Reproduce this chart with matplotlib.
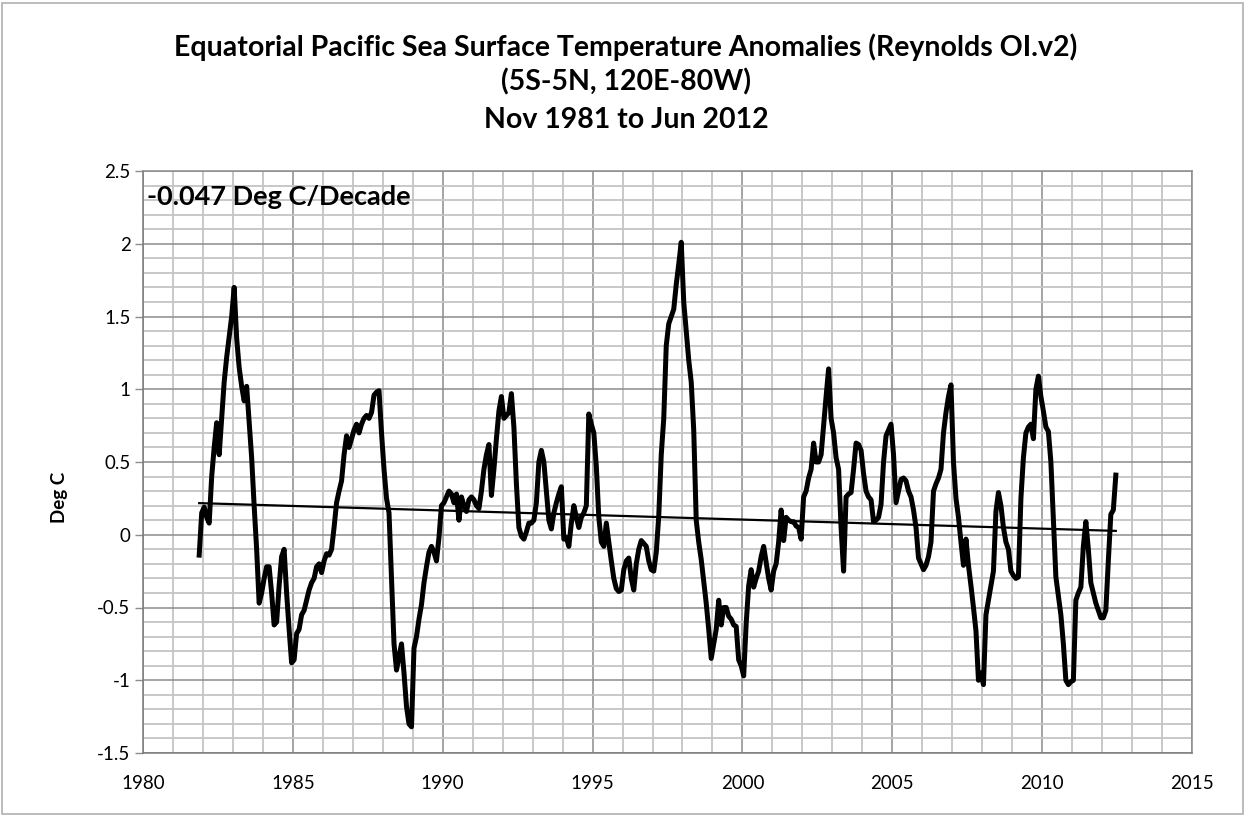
import numpy as np
import matplotlib
matplotlib.use("Agg")
import matplotlib.pyplot as plt
from matplotlib.ticker import MultipleLocator, FuncFormatter
from matplotlib.patches import Rectangle

# Monthly anomalies, Nov 1981 .. Jun 2012 (Deg C)
start_year = 1981
start_month = 11
anom_1981 = [-0.14, 0.15]
anom_1982 = [0.19, 0.12, 0.08, 0.40, 0.60, 0.77, 0.55, 0.80, 1.05, 1.22, 1.36, 1.50]
anom_1983 = [1.70, 1.35, 1.15, 1.02, 0.92, 1.02, 0.78, 0.53, 0.20, -0.10, -0.47, -0.40]
anom_1984 = [-0.30, -0.22, -0.22, -0.40, -0.62, -0.60, -0.35, -0.15, -0.10, -0.40, -0.65, -0.88]
anom_1985 = [-0.86, -0.68, -0.65, -0.55, -0.52, -0.45, -0.38, -0.33, -0.30, -0.22, -0.20, -0.26]
anom_1986 = [-0.18, -0.13, -0.14, -0.10, 0.05, 0.22, 0.30, 0.37, 0.55, 0.68, 0.60, 0.66]
anom_1987 = [0.72, 0.76, 0.70, 0.76, 0.80, 0.82, 0.80, 0.84, 0.96, 0.98, 0.99, 0.70]
anom_1988 = [0.45, 0.25, 0.15, -0.30, -0.75, -0.93, -0.84, -0.75, -0.95, -1.18, -1.30, -1.32]
anom_1989 = [-0.78, -0.70, -0.58, -0.48, -0.33, -0.22, -0.12, -0.08, -0.12, -0.18, -0.02, 0.20]
anom_1990 = [0.22, 0.26, 0.30, 0.28, 0.22, 0.28, 0.10, 0.26, 0.20, 0.16, 0.24, 0.26]
anom_1991 = [0.24, 0.20, 0.18, 0.30, 0.45, 0.55, 0.62, 0.27, 0.45, 0.66, 0.85, 0.95]
anom_1992 = [0.80, 0.82, 0.84, 0.97, 0.74, 0.35, 0.05, -0.01, -0.03, 0.02, 0.08, 0.08]
anom_1993 = [0.10, 0.22, 0.50, 0.58, 0.50, 0.30, 0.10, 0.04, 0.15, 0.22, 0.28, 0.33]
anom_1994 = [-0.03, -0.02, -0.08, 0.08, 0.20, 0.12, 0.05, 0.12, 0.15, 0.20, 0.83, 0.76]
anom_1995 = [0.70, 0.47, 0.12, -0.05, -0.08, 0.08, -0.05, -0.18, -0.30, -0.37, -0.39, -0.38]
anom_1996 = [-0.24, -0.18, -0.16, -0.30, -0.38, -0.20, -0.10, -0.04, -0.06, -0.08, -0.18, -0.24]
anom_1997 = [-0.25, -0.12, 0.13, 0.55, 0.80, 1.30, 1.45, 1.50, 1.55, 1.72, 1.86, 2.01]
anom_1998 = [1.60, 1.40, 1.20, 1.05, 0.72, 0.10, -0.05, -0.17, -0.32, -0.47, -0.65, -0.85]
anom_1999 = [-0.75, -0.65, -0.45, -0.62, -0.50, -0.50, -0.56, -0.58, -0.62, -0.63, -0.86, -0.90]
anom_2000 = [-0.97, -0.61, -0.35, -0.24, -0.36, -0.30, -0.25, -0.15, -0.08, -0.19, -0.30, -0.38]
anom_2001 = [-0.25, -0.20, -0.05, 0.17, -0.04, 0.12, 0.10, 0.09, 0.09, 0.06, 0.05, -0.03]
anom_2002 = [0.26, 0.30, 0.39, 0.45, 0.63, 0.50, 0.50, 0.55, 0.75, 0.95, 1.14, 0.80]
anom_2003 = [0.70, 0.53, 0.45, 0.05, -0.25, 0.26, 0.28, 0.29, 0.45, 0.63, 0.62, 0.58]
anom_2004 = [0.42, 0.30, 0.26, 0.24, 0.09, 0.10, 0.12, 0.21, 0.50, 0.68, 0.72, 0.76]
anom_2005 = [0.55, 0.22, 0.30, 0.38, 0.39, 0.37, 0.30, 0.26, 0.17, 0.05, -0.16, -0.20]
anom_2006 = [-0.24, -0.21, -0.15, -0.05, 0.30, 0.35, 0.39, 0.45, 0.70, 0.84, 0.95, 1.03]
anom_2007 = [0.50, 0.25, 0.12, -0.05, -0.21, -0.03, -0.21, -0.35, -0.50, -0.66, -1.00, -0.95]
anom_2008 = [-1.03, -0.55, -0.45, -0.35, -0.25, 0.16, 0.29, 0.20, 0.05, -0.05, -0.10, -0.25]
anom_2009 = [-0.28, -0.30, -0.29, 0.25, 0.53, 0.70, 0.74, 0.76, 0.66, 1.00, 1.09, 0.95]
anom_2010 = [0.85, 0.74, 0.71, 0.50, 0.10, -0.29, -0.42, -0.55, -0.75, -1.00, -1.03, -1.01]
anom_2011 = [-1.00, -0.45, -0.40, -0.36, -0.08, 0.09, -0.10, -0.33, -0.40, -0.47, -0.52, -0.57]
anom_2012 = [-0.57, -0.52, -0.18, 0.14, 0.17, 0.41]

anomalies = np.array(
    anom_1981 + anom_1982 + anom_1983 + anom_1984 + anom_1985 + anom_1986 + anom_1987
    + anom_1988 + anom_1989 + anom_1990 + anom_1991 + anom_1992 + anom_1993 + anom_1994
    + anom_1995 + anom_1996 + anom_1997 + anom_1998 + anom_1999 + anom_2000 + anom_2001
    + anom_2002 + anom_2003 + anom_2004 + anom_2005 + anom_2006 + anom_2007 + anom_2008
    + anom_2009 + anom_2010 + anom_2011 + anom_2012
)
months = np.arange(len(anomalies))
time = start_year + (start_month - 0.5) / 12 + months / 12.0

title_lines = ["Equatorial Pacific Sea Surface Temperature Anomalies (Reynolds OI.v2)",
               "(5S-5N, 120E-80W)",
               "Nov 1981 to Jun 2012"]
trend_label = "-0.047 Deg C/Decade"
y_label = "Deg C"

slope, intercept = np.polyfit(time, anomalies, 1)
trend = slope * time + intercept

W, H = 1246, 816
fig = plt.figure(figsize=(W / 100, H / 100), dpi=100)
fig.patch.set_facecolor("white")
fig.patches.append(Rectangle((2 / W, 2 / H), 1 - 5 / W, 1 - 5 / H, transform=fig.transFigure,
                             fill=False, edgecolor="#b0b0b0", linewidth=1.2))

left, right, top, bottom = 143, 1192, 171, 753
ax = fig.add_axes([left / W, 1 - bottom / H, (right - left) / W, (bottom - top) / H])

ax.set_xlim(1980, 2015)
ax.set_ylim(-1.5, 2.5)
ax.xaxis.set_major_locator(MultipleLocator(5))
ax.xaxis.set_minor_locator(MultipleLocator(1))
ax.yaxis.set_major_locator(MultipleLocator(0.5))
ax.yaxis.set_minor_locator(MultipleLocator(0.1))
ax.grid(which="minor", color="#c4c4c4", linewidth=1.3, zorder=0)
ax.grid(which="major", color="#8c8c8c", linewidth=1.1, zorder=0)
ax.set_axisbelow(True)

ax.yaxis.set_major_formatter(FuncFormatter(lambda v, p: f"{v:g}"))
ax.tick_params(axis="y", which="major", length=6, width=1, color="#8c8c8c", pad=3,
               labelsize=13.5)
ax.tick_params(axis="x", which="major", length=0, pad=16, labelsize=13.5)
ax.tick_params(which="minor", length=0)
for lab in ax.get_xticklabels() + ax.get_yticklabels():
    lab.set_fontfamily("Lato")

for s in ax.spines.values():
    s.set_color("#8c8c8c")
    s.set_linewidth(1.1)
ax.spines["left"].set_color("#7a7a7a")
ax.spines["bottom"].set_color("#7a7a7a")

ax.plot(time, anomalies, color="black", linewidth=3.6, solid_joinstyle="round", zorder=3)
ax.plot(time, trend, color="black", linewidth=1.6, zorder=4)

ax.text(0.004, 0.955, trend_label, transform=ax.transAxes, fontsize=19.5,
        fontweight="bold", family="Lato", ha="left", va="center")

for txt, yp in zip(title_lines, [47, 82, 120]):
    fig.text(626 / W, 1 - yp / H, txt, ha="center", va="center",
             fontsize=20.5, fontweight="bold", family="Lato")
fig.text(60 / W, 1 - 497 / H, y_label, ha="center", va="center", rotation=90,
         fontsize=13.5, fontweight="bold", family="Lato")

fig.savefig("out.png", dpi=100, facecolor="white")
